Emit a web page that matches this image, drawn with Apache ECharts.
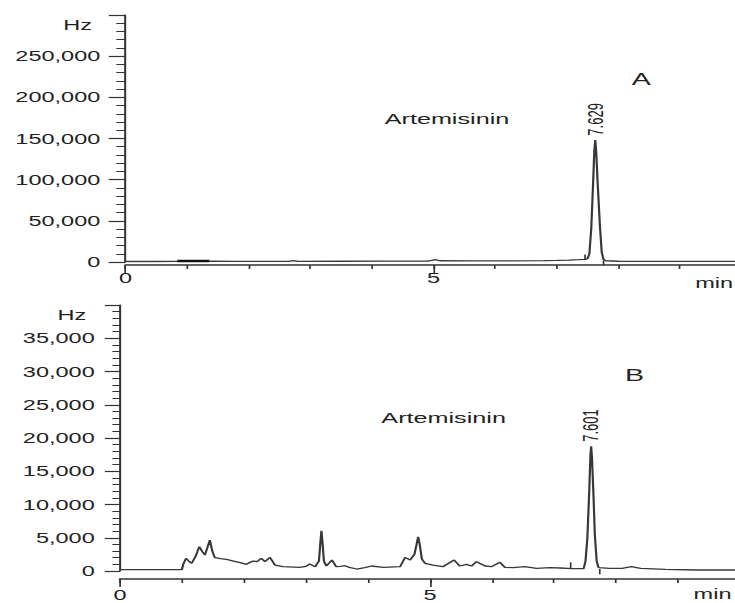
<!DOCTYPE html>
<html>
<head>
<meta charset="utf-8">
<script src="https://cdn.jsdelivr.net/npm/echarts@6/dist/echarts.min.js"></script>
<style>
html,body{margin:0;padding:0;background:#fff;overflow:hidden;width:735px;height:603px;}
#c{width:437.5px;height:603px;transform:scaleX(1.68);transform-origin:0 0;}
</style>
</head>
<body>
<div id="c"></div>
<script>
// ---------- data ----------
const panelLetters = ['A', 'B'];
const compoundNames = ['Artemisinin', 'Artemisinin'];
const peakLabels = ['7.629', '7.601'];
const xLabelValues = [0, 5];
const yMaxA = 300000, yStepA = 50000;
const yMaxB = 40000, yStepB = 5000;

// chromatogram A: [time (min), signal (Hz)]
const traceA = [
  [0, 600], [0.5, 600], [0.84, 700], [1.36, 900], [1.8, 700], [2.4, 700], [2.65, 800], [2.73, 1800], [2.8, 800],
  [3.5, 900], [4.2, 1000], [4.9, 1100], [4.97, 2000], [5.03, 2900], [5.1, 1500], [5.6, 1300], [6.2, 1400],
  [6.8, 1600], [7.0, 1900], [7.2, 2300], [7.35, 2800], [7.46, 3300], [7.50, 4000], [7.53, 10000], [7.56, 40000],
  [7.59, 95000], [7.61, 135000], [7.625, 148000], [7.64, 135000], [7.665, 95000], [7.70, 45000], [7.73, 12000],
  [7.76, 3000], [7.80, 1500], [8.0, 900], [8.5, 800], [9.0, 700], [9.5, 700], [10, 700]
];
// chromatogram B
const traceB = [
  [0, 200], [0.5, 200], [1.0, 200], [1.02, 1000], [1.065, 1900], [1.11, 1500], [1.156, 1150], [1.22, 2200],
  [1.28, 3650], [1.33, 2900], [1.37, 2400], [1.41, 3500], [1.45, 4650], [1.49, 3000], [1.53, 2000], [1.62, 1850],
  [1.72, 1750], [1.83, 1500], [1.94, 1250], [2.04, 1000], [2.10, 1300], [2.15, 1500], [2.21, 1400], [2.28, 1900],
  [2.34, 1400], [2.42, 2050], [2.50, 900], [2.63, 650], [2.90, 550], [3.00, 700], [3.06, 1050], [3.15, 650],
  [3.21, 1500], [3.235, 4500], [3.25, 6050], [3.265, 4500], [3.29, 1500], [3.33, 750], [3.42, 1650], [3.49, 650],
  [3.56, 700], [3.63, 800], [3.70, 550], [3.82, 300], [3.95, 500], [4.06, 750], [4.25, 550], [4.52, 650],
  [4.60, 2050], [4.68, 1650], [4.75, 2500], [4.785, 4000], [4.81, 5150], [4.835, 4000], [4.87, 1800], [4.92, 1150],
  [5.05, 900], [5.21, 650], [5.39, 1650], [5.48, 750], [5.59, 1000], [5.67, 750], [5.75, 1400], [5.89, 750],
  [5.99, 650], [6.13, 1300], [6.21, 550], [6.34, 500], [6.53, 650], [6.72, 400], [6.94, 500], [7.1, 450],
  [7.3, 350], [7.48, 350], [7.51, 1500], [7.54, 5000], [7.57, 12000], [7.59, 17500], [7.601, 18750],
  [7.615, 17000], [7.64, 11000], [7.66, 5500], [7.69, 1500], [7.72, 500], [7.9, 400], [8.1, 400], [8.25, 650],
  [8.4, 400], [8.8, 250], [9.3, 150], [10, 150]
];
// integration markers: [time, from, to]
const markersA = [[7.46, 3300, 9000], [7.76, 2000, -4000]];
const markersB = [[7.27, 300, 1300], [7.74, 300, -500]];
const solventMarkA = [[0.84, 1300], [1.36, 1300]];

// ---------- styles ----------
const FONT = "'Liberation Sans', Arial, sans-serif";
const TXT = '#222';
const AX = '#333';
const LINE = '#383838';

function xAxes(grid, offset, labelMargin, nameGap, namePad) {
  return [
    {
      gridIndex: grid, type: 'value', position: 'bottom', min: 0, max: 10, interval: 1, offset: offset,
      axisLine: { onZero: false, lineStyle: { color: AX, width: 1.6 } },
      axisTick: { length: 4, lineStyle: { color: AX, width: 1 } },
      splitLine: { show: false },
      axisLabel: {
        margin: labelMargin, color: TXT, fontSize: 14, fontFamily: FONT,
        formatter: v => xLabelValues.indexOf(v) >= 0 ? String(v) : ''
      },
      name: 'min', nameLocation: 'end', nameGap: nameGap,
      nameTextStyle: { color: TXT, fontSize: 14, fontFamily: FONT, align: 'right', verticalAlign: 'top', padding: [namePad, 0, 0, 0] }
    },
    {
      gridIndex: grid, type: 'value', position: 'bottom', min: 0, max: 10, interval: 5, offset: offset,
      axisLine: { show: false, onZero: false },
      axisTick: { length: 8, lineStyle: { color: AX, width: 1 } },
      splitLine: { show: false }, axisLabel: { show: false }
    }
  ];
}
function yAxis(grid, max, step, tickLen, minorLen, margin) {
  return {
    gridIndex: grid, type: 'value', position: 'left', min: 0, max: max, interval: step,
    axisLine: { show: true, onZero: false, lineStyle: { color: AX, width: 1.2 } },
    axisTick: { show: true, length: tickLen, lineStyle: { color: AX, width: 1.2 } },
    minorTick: { show: true, splitNumber: 5, length: minorLen, lineStyle: { color: AX, width: 1 } },
    splitLine: { show: false }, minorSplitLine: { show: false },
    axisLabel: {
      margin: margin, color: TXT, fontSize: 14, fontFamily: FONT,
      formatter: v => v === max ? '' : v.toLocaleString('en-US')
    },
    name: 'Hz', nameLocation: 'end', nameGap: -10,
    nameTextStyle: { color: TXT, fontSize: 14, fontFamily: FONT, align: 'right', verticalAlign: 'middle', padding: [0, 20, 0, 0] }
  };
}
function traceSeries(data, xi, yi, label) {
  return {
    type: 'line', xAxisIndex: xi, yAxisIndex: yi, data: data, showSymbol: false, symbol: 'none',
    lineStyle: { color: LINE, width: 1.3 }, animation: false, silent: true,
    markPoint: {
      symbol: 'circle', symbolSize: 1, itemStyle: { color: 'transparent' }, animation: false,
      data: [{
        type: 'max',
        label: {
          show: true, formatter: label, rotate: 90, position: 'top', distance: 4,
          align: 'left', verticalAlign: 'middle', color: TXT, fontSize: 13, fontFamily: FONT
        }
      }]
    }
  };
}
function markerSeries(list, xi, yi, width) {
  return list.map(m => ({
    type: 'line', xAxisIndex: xi, yAxisIndex: yi, data: [[m[0], m[1]], [m[0], m[2]]],
    showSymbol: false, symbol: 'none', clip: false, silent: true, animation: false,
    lineStyle: { color: '#333', width: width }
  }));
}
function titleItem(text, left, top, size) {
  return { text: text, left: left, top: top, padding: 0,
    textStyle: { color: TXT, fontSize: size, fontWeight: 'normal', fontFamily: FONT } };
}

const chart = echarts.init(document.getElementById('c'), null, { renderer: 'svg' });
chart.setOption({
  animation: false,
  backgroundColor: '#fff',
  title: [
    titleItem(compoundNames[0], 229, 111, 15),
    titleItem(panelLetters[0], 376, 71, 17),
    titleItem(compoundNames[1], 227, 410, 15),
    titleItem(panelLetters[1], 372, 367, 17)
  ],
  grid: [
    { left: 74.7, top: 15, width: 366.7, height: 247, outerBoundsMode: 'none', containLabel: false },
    { left: 71.4, top: 305, width: 369, height: 266, outerBoundsMode: 'none', containLabel: false }
  ],
  xAxis: [].concat(xAxes(0, 3, 6, -5, 11), xAxes(1, 8, 9, -5, 8)),
  yAxis: [
    yAxis(0, yMaxA, yStepA, 10, 5.5, 15),
    yAxis(1, yMaxB, yStepB, 9, 4.5, 15)
  ],
  series: [
    traceSeries(traceA, 0, 0, peakLabels[0]),
    traceSeries(traceB, 2, 1, peakLabels[1]),
    {
      type: 'line', xAxisIndex: 0, yAxisIndex: 0, data: solventMarkA, showSymbol: false, symbol: 'none',
      silent: true, animation: false, lineStyle: { color: '#111', width: 2.4 }
    }
  ].concat(markerSeries(markersA, 0, 0, 1), markerSeries(markersB, 2, 1, 1))
});
</script>
</body>
</html>
